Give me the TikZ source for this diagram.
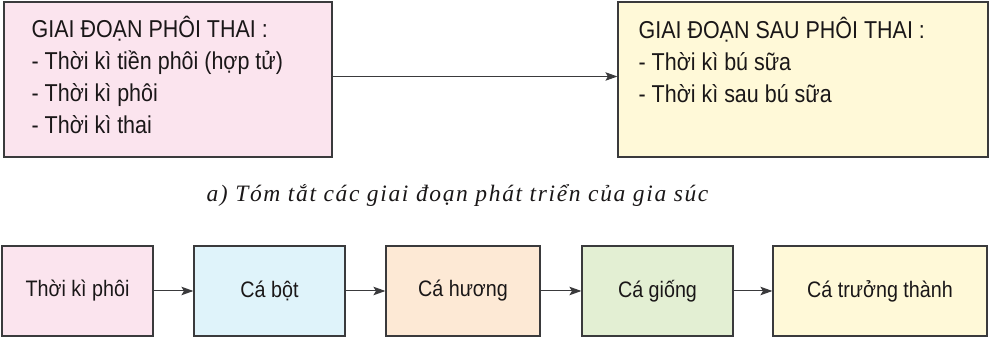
\documentclass[tikz,border=0pt]{standalone}
\usepackage{fontspec}
\setmainfont{Liberation Sans}[FakeStretch=0.88]
\newfontfamily\capfont{Liberation Serif}[LetterSpace=7]
\usetikzlibrary{arrows.meta, positioning}
\definecolor{boxstroke}{HTML}{3A3A3C}
\definecolor{txtcol}{HTML}{1A1718}
\definecolor{pinkbg}{HTML}{FBE4EE}
\definecolor{bluebg}{HTML}{DFF3FA}
\definecolor{orangebg}{HTML}{FDE9D5}
\definecolor{greenbg}{HTML}{E3EFD3}
\definecolor{yellowbg}{HTML}{FFF9D8}

\begin{document}
\begin{tikzpicture}[
    x=1pt, y=1pt,
    every node/.style={text=txtcol, font=\fontsize{22.4}{27}\selectfont},
    bigbox/.style={rectangle, draw=boxstroke, line width=1.2pt, minimum height=155pt, inner sep=0pt},
    stage/.style={rectangle, draw=boxstroke, line width=1.2pt, minimum width=151pt, minimum height=90pt, inner sep=0pt},
    lst/.style={anchor=base west, align=left, inner sep=0pt, font=\fontsize{24.4}{32}\selectfont},
    arr/.style={-{Stealth[length=12pt, width=8.5pt, inset=2.5pt]}, line width=1pt, draw=boxstroke}
]
\useasboundingbox (0,0) rectangle (990,337);

% top row
\node[bigbox, fill=pinkbg, minimum width=328pt] (embryo) at (168, 257.5) {};
\node[bigbox, fill=yellowbg, minimum width=370pt] (postemb) at (803, 257.5) {};
% base west sits on the last line
\node[lst] (embryotxt) at ([xshift=28pt, yshift=-132pt]embryo.north west)
    {GIAI ĐOẠN PHÔI THAI :\\- Thời kì tiền phôi (hợp tử)\\- Thời kì phôi\\- Thời kì thai};
\node[lst] (postembtxt) at ([xshift=21pt, yshift=-101pt]postemb.north west)
    {GIAI ĐOẠN SAU PHÔI THAI :\\- Thời kì bú sữa\\- Thời kì sau bú sữa};
\draw[arr] ([yshift=3pt]embryo.east) -- ([yshift=3pt]postemb.west);

\node[anchor=base, font={\capfont\itshape\fontsize{23.5}{28}\selectfont}] (caption) at (457.5, 135.3)
    {a) Tóm tắt các giai đoạn phát triển của gia súc};

% bottom row
\node[stage, fill=pinkbg] (phoi) at (77.5, 46) {Thời kì phôi};
\node[stage, fill=bluebg] (bot) at (269.5, 46) {Cá bột};
\node[stage, fill=orangebg, minimum width=154pt] (huong) at (463, 46) {Cá hương};
\node[stage, fill=greenbg] (giong) at (657.5, 46) {Cá giống};
\node[stage, fill=yellowbg, minimum width=214pt] (truong) at (880, 46) {Cá trưởng thành};

\draw[arr] (phoi) -- (bot);
\draw[arr] (bot) -- (huong);
\draw[arr] (huong) -- (giong);
\draw[arr] (giong) -- (truong);

\end{tikzpicture}
\end{document}
